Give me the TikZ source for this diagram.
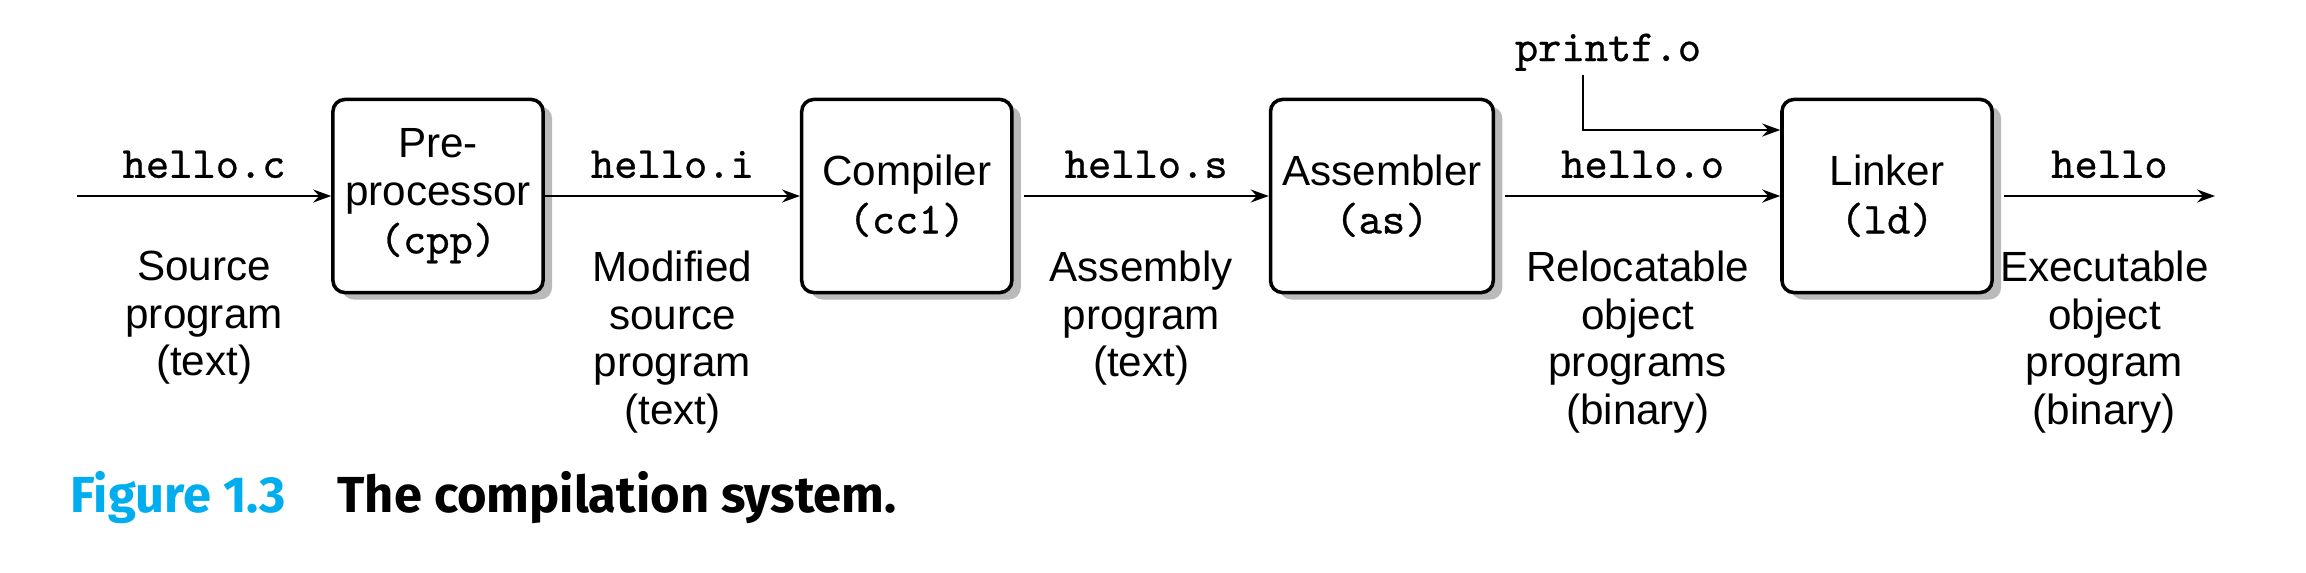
\documentclass[tikz,border=0pt]{standalone}
\usepackage{fontspec}
\setmainfont{Liberation Sans}
\setmonofont{lmmono10-regular.otf}[FakeBold=0.7]
\newfontfamily\captionfont{Fira Sans}
\usepackage{tikz}
\usetikzlibrary{positioning, calc, arrows.meta, shadows}
\usepackage{xcolor}
\definecolor{figblue}{RGB}{0,174,239}
\tikzset{stage/.style={draw, line width=1pt, rounded corners=0.12cm, fill=white, minimum width=2.1cm, minimum height=1.93cm, align=center, drop shadow={shadow xshift=0.09cm, shadow yshift=-0.07cm, fill=black!27, opacity=1}}}
\tikzset{flow/.style={line width=0.6pt, -{Stealth[length=0.18cm, width=0.13cm, inset=0.06cm]}}}
\tikzset{file/.style={font=\ttfamily\fontsize{12.6}{14}\selectfont, inner sep=0pt}}
\tikzset{desc/.style={align=center, inner sep=0pt, anchor=north}}
\tikzset{figcap/.style={inner sep=0pt, anchor=base west, font=\captionfont\bfseries\fontsize{14.4}{16}\selectfont}}
\newcommand{\prog}[1]{\texttt{\fontsize{12.6}{13.6}\selectfont#1}}

\begin{document}
\begin{tikzpicture}[x=0.01cm, y=-0.01cm, font=\fontsize{12}{13.6}\selectfont]
  \useasboundingbox (0,0) rectangle (2306,572);

  \node[stage] (pre) at (438,196) {Pre-\\processor\\\prog{(cpp)}};
  \node[stage] (comp) [right=2.55cm of pre] {Compiler\\\prog{(cc1)}};
  \node[stage] (asm) [right=2.55cm of comp] {Assembler\\\prog{(as)}};
  \node[stage] (link) [right=2.85cm of asm] {Linker\\\prog{(ld)}};

  \coordinate (in) at (77,196);
  \coordinate (out) at (2215,196);
  \node[file, anchor=base] (printf) at (1608,61) {printf.o};

  \draw[flow] (in) -- (pre) node[file, midway, above=4.8pt] (hc) {hello.c};
  \draw[flow] (pre) -- (comp) node[file, midway, above=4.8pt] (hi) {hello.i};
  \draw[flow] ([xshift=0.1cm]comp.east) -- (asm) node[file, midway, above=4.8pt] (hs) {hello.s};
  \draw[flow] ([xshift=0.1cm]asm.east) -- (link) node[file, midway, above=4.8pt] (ho) {hello.o};
  \draw[flow] ([xshift=0.1cm]link.east) -- (out) node[file, midway, above=4.8pt] (hx) {hello};
  \draw[flow] ($(printf.base)+(-25,14)$) |- ($(link.west)+(0,-66)$);

  \node[desc] (srcdesc) at ($(in)!0.5!(pre.west)+(0,54)$) {Source\\program\\(text)};
  \node[desc] (moddesc) at ($(pre.east)!0.5!(comp.west)+(0,54)$) {Modified\\source\\program\\(text)};
  \node[desc] (asmdesc) at ($(comp.east)!0.5!(asm.west)+(0,54)$) {Assembly\\program\\(text)};
  \node[desc] (reldesc) at ($(asm.east)!0.5!(link.west)+(0,54)$) {Relocatable\\object\\programs\\(binary)};
  \node[desc] (exedesc) at ($(link.east)!0.5!(out)+(0,54)$) {Executable\\object\\program\\(binary)};

  \node[figcap, text=figblue] (fig) at (70,512) {Figure 1.3};
  \node[figcap] (title) at ($(fig.base east)+(50,0)$) {The compilation system.};
\end{tikzpicture}
\end{document}
